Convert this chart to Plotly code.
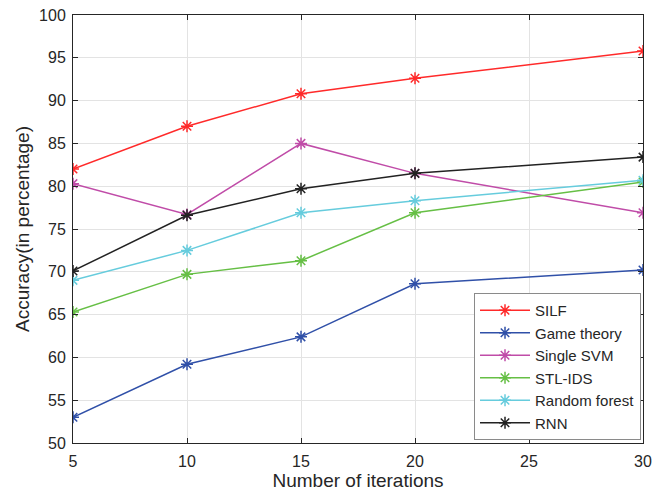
import plotly.graph_objects as go

iterations = [5, 10, 15, 20, 30]
silf = [82.0, 87.0, 90.8, 92.6, 95.8]
game_theory = [53.0, 59.2, 62.4, 68.6, 70.2]
single_svm = [80.3, 76.7, 85.0, 81.5, 76.9]
stl_ids = [65.3, 69.7, 71.3, 76.9, 80.5]
random_forest = [69.0, 72.5, 76.9, 78.3, 80.7]
rnn = [70.1, 76.6, 79.7, 81.5, 83.4]

series = [
    ("SILF", silf, "#FF2A2A"),
    ("Game theory", game_theory, "#3050A8"),
    ("Single SVM", single_svm, "#C04CA8"),
    ("STL-IDS", stl_ids, "#66BF45"),
    ("Random forest", random_forest, "#66CCDD"),
    ("RNN", rnn, "#222222"),
]

x_ticks = [5, 10, 15, 20, 25, 30]
y_ticks = [50, 55, 60, 65, 70, 75, 80, 85, 90, 95, 100]

FONT = "Liberation Sans, Arial"

fig = go.Figure()
for name, vals, col in series:
    fig.add_trace(go.Scatter(
        x=iterations, y=vals, name=name, mode="lines+markers",
        line=dict(color=col, width=1.5),
        marker=dict(symbol="asterisk-open", size=10, color=col,
                    line=dict(color=col, width=1.5)),
    ))

axis_common = dict(
    showline=True, linecolor="#262626", linewidth=1, mirror="allticks",
    ticks="inside", ticklen=5, tickcolor="#262626",
    showgrid=True, gridcolor="#E3E3E3", gridwidth=1,
    zeroline=False, automargin=False,
    tickfont=dict(family=FONT, size=16, color="#262626"),
    title_font=dict(family=FONT, size=19, color="#262626"),
)

fig.update_layout(
    width=653, height=498,
    margin=dict(l=73, r=10, t=15, b=55),
    plot_bgcolor="white", paper_bgcolor="white",
    xaxis=dict(range=[5, 30], tickvals=x_ticks, ticklabelstandoff=4,
               title=dict(text="Number of iterations", standoff=0), **axis_common),
    yaxis=dict(range=[50, 100], tickvals=y_ticks, ticklabelstandoff=3,
               title=dict(text="Accuracy(in percentage)", standoff=4), **axis_common),
    legend=dict(
        x=0.9965, y=0.007, xanchor="right", yanchor="bottom",
        bgcolor="white", bordercolor="#8A8A8A", borderwidth=1,
        font=dict(family=FONT, size=15, color="#262626"),
        tracegroupgap=0, itemwidth=50,
    ),
    showlegend=True,
)

fig.write_html("out.html")
